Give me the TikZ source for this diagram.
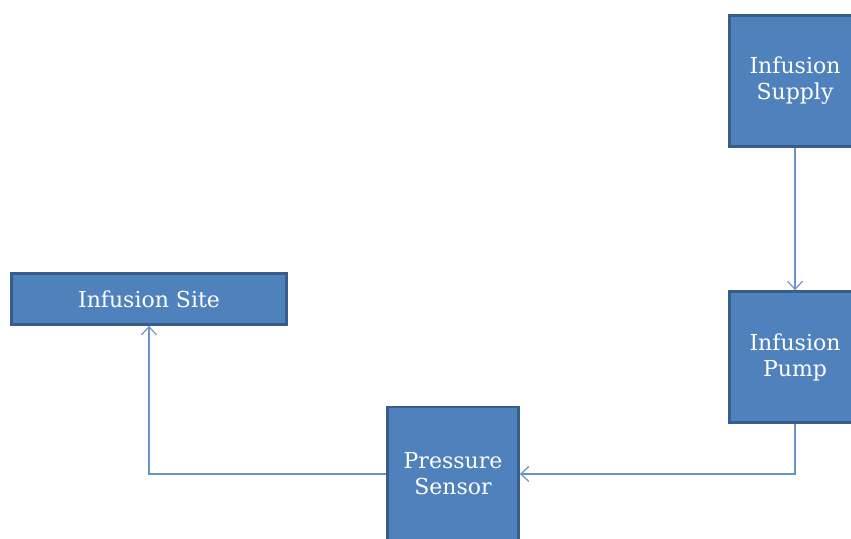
\documentclass[tikz,border=0pt]{standalone}
\usepackage{fontspec}
\setmainfont{DejaVu Serif}
\usetikzlibrary{arrows.meta}
\definecolor{boxfill}{HTML}{4F81BD}
\definecolor{boxline}{HTML}{385D8A}
\definecolor{wire}{HTML}{6A93C8}
\begin{document}
\begin{tikzpicture}[x=1pt,y=-1pt,
  blk/.style={draw=boxline,fill=boxfill,line width=2.8pt,text=white,
    font=\fontsize{22}{26}\selectfont,align=center,inner sep=0pt},
  lbl/.style={text=white,font=\fontsize{22}{26}\selectfont,align=center,inner sep=0pt},
  wireline/.style={draw=wire,line width=1.2pt,
    -{Straight Barb[length=8pt,width=15pt,line width=1.2pt]}}]
\useasboundingbox (0,0) rectangle (851,538);
\clip (0,0) rectangle (851,538);
\node[blk,minimum width=131pt,minimum height=131pt] (supply) at (795,81) {Infusion\\Supply};
\node[blk,minimum width=131pt,minimum height=131pt] (pump) at (795,357) {Infusion\\Pump};
\node[blk,minimum width=131pt,minimum height=140pt] (sensor) at (453,477) {};
\node[lbl] (sensortext) at (453,474) {Pressure\\Sensor};
\node[blk,minimum width=275pt,minimum height=51pt] (site) at (149,299) {Infusion Site};
\draw[wireline] (supply.south) -- (pump.north);
\draw[wireline] (pump.south) |- (sensor.east |- sensortext);
\draw[wireline] (sensor.west |- sensortext) -| (site.south);
\end{tikzpicture}
\end{document}
